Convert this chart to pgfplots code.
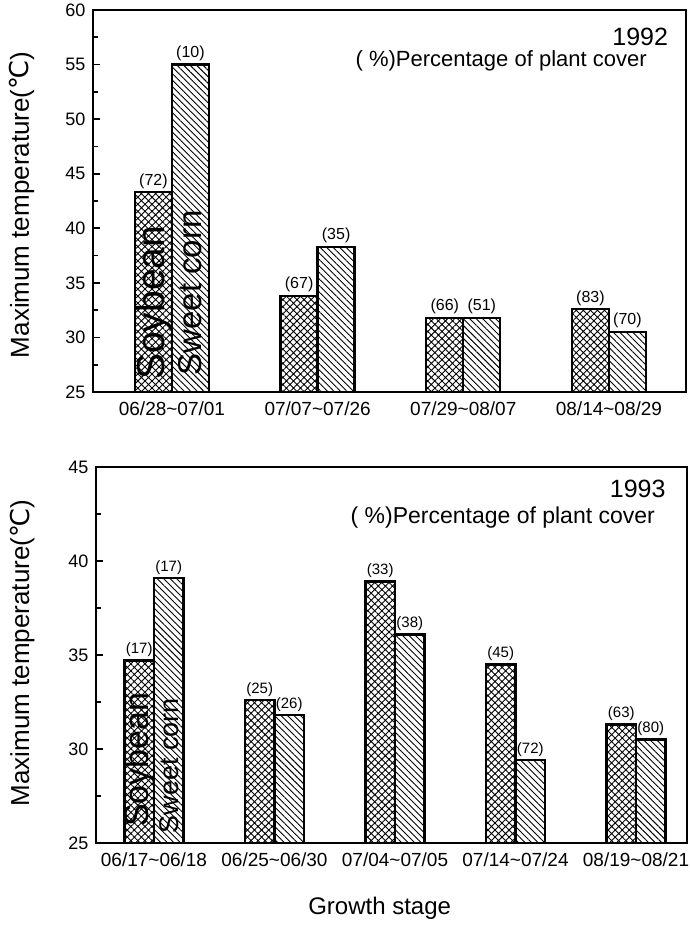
\documentclass[border=0pt]{standalone}
\usepackage{fontspec}
\setmainfont{Liberation Sans}
\newfontfamily\dejavu{DejaVu Sans}
\usepackage{pgfplots}
\pgfplotsset{compat=1.18}
\usepackage{pgfplotstable}
\usetikzlibrary{patterns.meta}

% maximum temperature by growth stage, with plant cover (%) as labels
\pgfplotstableread{
x soy corn soylab cornlab
0 43.3 55.0 72 10
1 33.8 38.3 67 35
2 31.8 31.8 66 51
3 32.6 30.5 83 70
}\yrA
\pgfplotstableread{
x soy corn soylab cornlab
0 34.7 39.1 17 17
1 32.6 31.8 25 26
2 38.9 36.1 33 38
3 34.5 29.4 45 72
4 31.3 30.5 63 80
}\yrB

\pgfplotsset{
  chartstyle/.style={
    scale only axis,
    axis line style={line width=2.5pt},
    ybar, clip mode=individual,
    tick align=inside,
    ytick pos=left,
    minor y tick num=1,
    major tick length=7pt, minor tick length=5pt,
    every tick/.style={black, line width=1.8pt},
    xtick style={draw=none},
    yticklabel style={font=\fontsize{18}{18}\selectfont, xshift=-4pt},
    xticklabel style={font=\fontsize{19}{19}\selectfont, yshift=-6pt},
    /pgf/number format/assume math mode=true,
    ylabel={Maximum temperature({\dejavu ℃})},
    ylabel style={font=\fontsize{26}{26}\selectfont, anchor=center},
    nodes near coords={(\pgfplotspointmeta)},
    point meta=explicit symbolic,
  },
  soybar/.style={draw=black, line width=2.4pt,
    pattern={Hatch[angle=45,distance=5pt,line width=0.9pt]}},
  cornbar/.style={draw=black, line width=2.4pt,
    pattern={Lines[angle=-45,distance=4.6pt,line width=0.9pt]}},
}

\begin{document}
\begin{tikzpicture}
\useasboundingbox (0,0) rectangle (689pt,929pt);

% 1992
\begin{axis}[chartstyle,
  at={(93pt,537pt)}, anchor=south west,
  width=593pt, height=382pt,
  xmin=-0.542, xmax=3.529, ymin=25, ymax=60,
  ytick={25,30,...,60},
  xtick={0,1,2,3},
  xticklabels={06/28\textasciitilde07/01, 07/07\textasciitilde07/26, 07/29\textasciitilde08/07, 08/14\textasciitilde08/29},
  ylabel style={at={(axis description cs:-0.12,0.49)}},
  every node near coord/.append style={font=\fontsize{16}{16}\selectfont, inner sep=2.5pt},
]
\addplot[soybar, bar width=0.254, bar shift=-0.127] table[x=x, y=soy, meta=soylab] {\yrA};
\addplot[cornbar, bar width=0.254, bar shift=0.127] table[x=x, y=corn, meta=cornlab] {\yrA};
\node[rotate=90, anchor=west, inner sep=0pt, font=\fontsize{39}{39}\selectfont] at (axis cs:-0.12,26.1) {Soybean};
\node[rotate=90, anchor=west, inner sep=0pt, font=\fontsize{33}{33}\selectfont] at (axis cs:0.127,26.5) {Sweet corn};
\node[anchor=base east, inner sep=0pt, font=\fontsize{25}{25}\selectfont] at (axis description cs:0.970,0.908) {1992};
\node[anchor=base east, inner sep=0pt, font=\fontsize{22}{22}\selectfont] at (axis description cs:0.934,0.853) {( \%)Percentage of plant cover};
\end{axis}

% 1993
\begin{axis}[chartstyle,
  at={(96pt,86pt)}, anchor=south west,
  width=591pt, height=376pt,
  xmin=-0.481, xmax=4.423, ymin=25, ymax=45,
  ytick={25,30,...,45},
  xtick={0,1,2,3,4},
  xticklabels={06/17\textasciitilde06/18, 06/25\textasciitilde06/30, 07/04\textasciitilde07/05, 07/14\textasciitilde07/24, 08/19\textasciitilde08/21},
  ylabel style={at={(axis description cs:-0.125,0.505)}},
  every node near coord/.append style={font=\fontsize{15}{15}\selectfont, inner sep=2.5pt},
]
\addplot[soybar, bar width=0.245, bar shift=-0.1225] table[x=x, y=soy, meta=soylab] {\yrB};
\addplot[cornbar, bar width=0.245, bar shift=0.1225] table[x=x, y=corn, meta=cornlab] {\yrB};
\node[rotate=90, anchor=west, inner sep=0pt, font=\fontsize{34}{34}\selectfont] at (axis cs:-0.115,25.85) {Soybean};
\node[rotate=90, anchor=west, inner sep=0pt, font=\fontsize{27}{27}\selectfont] at (axis cs:0.1225,25.5) {Sweet corn};
\node[anchor=base east, inner sep=0pt, font=\fontsize{25}{25}\selectfont] at (axis description cs:0.964,0.920) {1993};
\node[anchor=base east, inner sep=0pt, font=\fontsize{23}{23}\selectfont] at (axis description cs:0.946,0.851) {( \%)Percentage of plant cover};
\node[anchor=base, inner sep=0pt, font=\fontsize{24}{24}\selectfont] at (axis description cs:0.48,-0.191) {Growth stage};
\end{axis}
\end{tikzpicture}
\end{document}
